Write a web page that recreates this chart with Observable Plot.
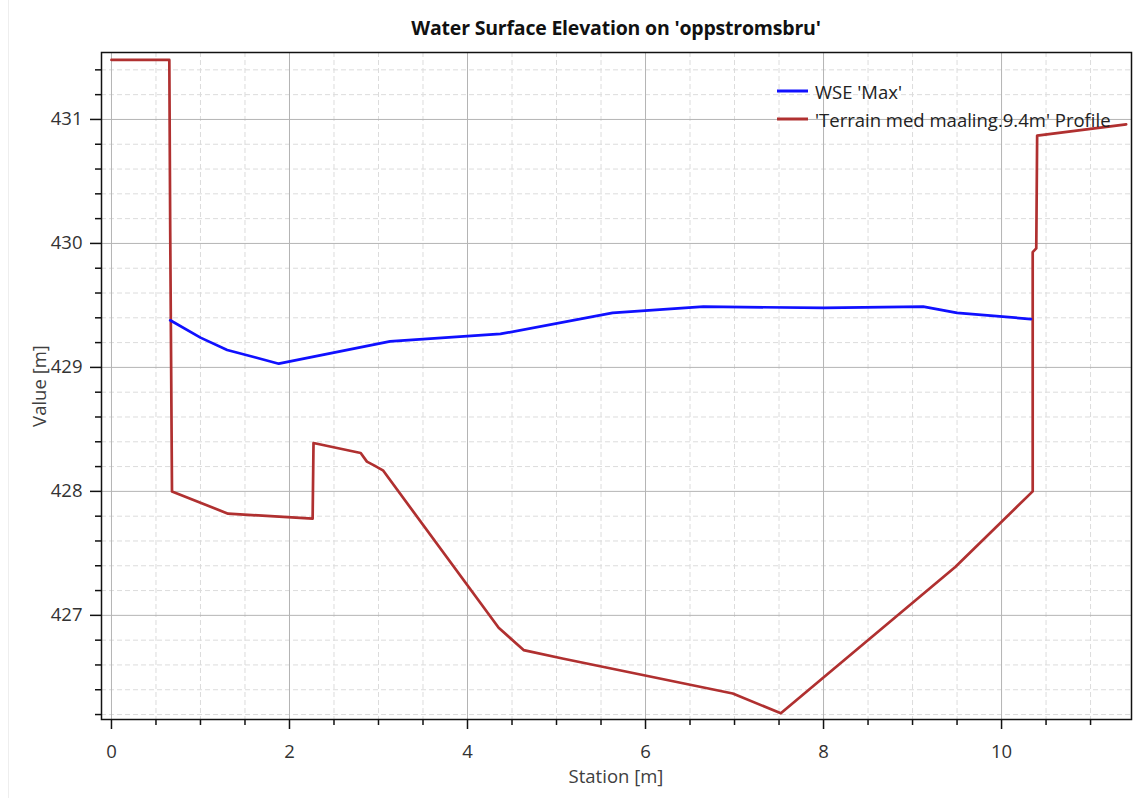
<!DOCTYPE html>
<html>
<head>
<meta charset="utf-8">
<script src="https://cdn.jsdelivr.net/npm/d3@7"></script>
<script src="https://cdn.jsdelivr.net/npm/@observablehq/plot@0.6"></script>
<style>
  html, body { margin: 0; padding: 0; background: #fff; }
  #wrap { position: relative; width: 1134px; height: 798px; overflow: hidden; font-family: "Open Sans", sans-serif; }
  #edge { position: absolute; left: 8px; top: 0; width: 1px; height: 798px; background: #eeeeee; }
  #title { position: absolute; left: 101px; width: 1030px; top: 14px; text-align: center; font-weight: 700; font-size: 19.5px; line-height: 28px; color: #111; letter-spacing: -0.2px; }
  #xlabel { position: absolute; left: 101px; width: 1030px; top: 763px; line-height: 26px; text-align: center; font-size: 18.5px; color: #404040; }
  #ylabel { position: absolute; left: 38px; top: 386px; transform: translate(-50%, -50%) rotate(-90deg); font-size: 18.5px; color: #404040; white-space: nowrap; }
  #legend { position: absolute; left: 777px; top: 77px; font-size: 18.5px; color: #222; }
  #legend div { display: flex; align-items: center; height: 28px; }
  #legend svg { margin-right: 7px; }
  #chart svg { display: block; }
</style>
</head>
<body>
<div id="wrap">
  <div id="edge"></div>
  <div id="chart"></div>
  <div id="title">Water Surface Elevation on 'oppstromsbru'</div>
  <div id="xlabel">Station [m]</div>
  <div id="ylabel">Value [m]</div>
  <div id="legend"></div>
</div>
<script>
// ---- Data ----
const seriesNames = ["WSE 'Max'", "'Terrain med maaling.9.4m' Profile"];
const seriesColors = ["#1010ff", "#b03030"];

const wseStation = [0.66, 1.0, 1.30, 1.62, 1.88, 3.13, 4.37, 5.63, 6.65, 8.0, 9.12, 9.5, 10.33];
const wseValue   = [429.38, 429.24, 429.14, 429.08, 429.03, 429.21, 429.27, 429.44, 429.49, 429.48, 429.49, 429.44, 429.39];

const terrainStation = [0, 0.65, 0.66, 0.68, 1.31, 2.26, 2.27, 2.80, 2.87, 2.95, 3.05, 4.35, 4.63, 5.08, 6.98, 7.52, 9.48, 10.35, 10.35, 10.39, 10.40, 11.40];
const terrainValue   = [431.48, 431.48, 430.10, 428.00, 427.82, 427.78, 428.39, 428.31, 428.24, 428.21, 428.17, 426.90, 426.72, 426.65, 426.37, 426.21, 427.39, 428.00, 429.93, 429.96, 430.87, 430.96];

const xMajorTicks = [0, 2, 4, 6, 8, 10];
const yMajorTicks = [427, 428, 429, 430, 431];
const xMinorStep = 0.5;
const yMinorStep = 0.2;
const xDomain = [-0.112, 11.46];
const yDomain = [426.16, 431.54];

// ---- Build ----
const wse = wseStation.map((s, i) => ({station: s, value: wseValue[i]}));
const terrain = terrainStation.map((s, i) => ({station: s, value: terrainValue[i]}));

const xMinor = d3.range(0, 11.5 + 1e-9, xMinorStep).filter(v => !xMajorTicks.includes(v));
const yMinor = d3.range(426.2, 431.5, yMinorStep).map(v => +v.toFixed(1)).filter(v => !yMajorTicks.includes(v));

const plot = Plot.plot({
  width: 1134,
  height: 798,
  marginTop: 52,
  marginLeft: 101,
  marginRight: 3,
  marginBottom: 79,
  style: {fontFamily: "'Open Sans', sans-serif", fontSize: "18.5px", color: "#333", background: "transparent", overflow: "visible"},
  x: {domain: xDomain},
  y: {domain: yDomain},
  marks: [
    Plot.ruleX(xMinor, {stroke: "#dcdcdc", strokeDasharray: "5,3", strokeWidth: 1}),
    Plot.ruleY(yMinor, {stroke: "#dcdcdc", strokeDasharray: "5,3", strokeWidth: 1}),
    Plot.ruleX(xMajorTicks, {stroke: "#b4b4b4", strokeWidth: 1}),
    Plot.ruleY(yMajorTicks, {stroke: "#b4b4b4", strokeWidth: 1}),
    Plot.axisX(xMinor, {tickSize: 6, text: null, label: null, stroke: "#111", strokeWidth: 1.5}),
    Plot.axisY(yMinor, {tickSize: 6, text: null, label: null, stroke: "#111", strokeWidth: 1.5}),
    Plot.axisX(xMajorTicks, {tickSize: 10, tickPadding: 15, tickFormat: d3.format("d"), label: null, stroke: "#111", strokeWidth: 1.5, fill: "#333"}),
    Plot.axisY(yMajorTicks, {tickSize: 11, tickPadding: 8, tickFormat: d3.format("d"), label: null, stroke: "#111", strokeWidth: 1.5, fill: "#333"}),
    Plot.line(terrain, {x: "station", y: "value", stroke: seriesColors[1], strokeWidth: 2.7, strokeLinejoin: "round"}),
    Plot.line(wse, {x: "station", y: "value", stroke: seriesColors[0], strokeWidth: 2.7, strokeLinejoin: "round"}),
    Plot.frame({stroke: "#111", strokeWidth: 1.5})
  ]
});
document.getElementById("chart").appendChild(plot);

// legend
const legend = document.getElementById("legend");
seriesNames.forEach((name, i) => {
  const row = document.createElement("div");
  row.innerHTML = `<svg width="31" height="4"><line x1="0" x2="31" y1="2" y2="2" stroke="${seriesColors[i]}" stroke-width="3"/></svg><span>${name}</span>`;
  legend.appendChild(row);
});
</script>
</body>
</html>
